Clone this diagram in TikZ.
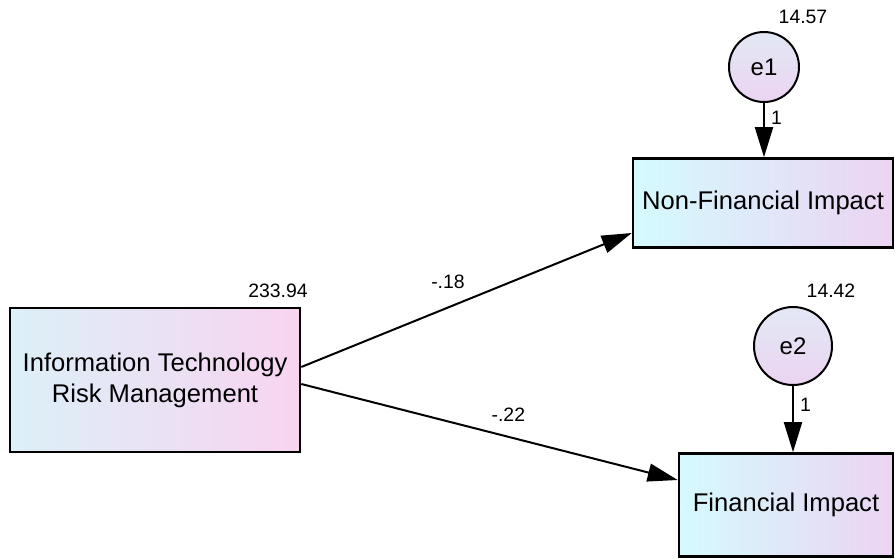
\documentclass[tikz,border=0pt]{standalone}
\usepackage{fontspec}
\setmainfont{Liberation Sans}
\usetikzlibrary{arrows.meta}
\definecolor{boxcyan}{RGB}{212, 250, 254}
\definecolor{boxpink}{RGB}{236, 212, 242}
\definecolor{itcyan}{RGB}{220, 240, 248}
\definecolor{itpink}{RGB}{248, 212, 240}
\definecolor{errgrey}{RGB}{226, 232, 244}

\begin{document}
\begin{tikzpicture}[x=0.5pt, y=-0.5pt,
    obs/.style={draw, line width=1.3pt, left color=boxcyan, right color=boxpink, font=\fontsize{12.8}{15.5}\selectfont, align=center, inner sep=0pt},
    err/.style={draw, circle, line width=1pt, inner sep=0pt, shading=axis, shading angle=135, top color=errgrey, bottom color=boxpink, font=\fontsize{12}{14}\selectfont},
    path/.style={line width=1pt, -{Triangle[length=15pt, width=9pt]}},
    est/.style={font=\fontsize{9.7}{11}\selectfont, inner sep=1pt}]
    \useasboundingbox (0,0) rectangle (895,558);
    \node[obs, left color=itcyan, right color=itpink, minimum width=145pt, minimum height=72pt] (IT) at (155,380) {Information Technology\\Risk Management};
    \node[obs, minimum width=130pt, minimum height=44.5pt] (NF) at (763,203) {Non-Financial Impact};
    \node[obs, minimum width=107pt, minimum height=51.5pt] (FI) at (786,505) {Financial Impact};
    \node[err, minimum size=35pt] (e1) at (764,67) {e1};
    \node[err, minimum size=39pt] (e2) at (793,346) {e2};
    % variances
    \node[est] (vIT) at (278,291) {233.94};
    \node[est] (ve1) at (803,17) {14.57};
    \node[est] (ve2) at (831,291) {14.42};
    % paths
    \draw[path] ([yshift=6.5pt]IT.east) -- ([yshift=-15pt]NF.west) node[est, pos=0.444, above=8pt] {-.18};
    \draw[path] ([yshift=-2pt]IT.east) -- ([yshift=12.5pt]FI.west) node[est, pos=0.55, above=6pt] {-.22};
    \draw[path] (e1) -- (e1 |- NF.north) node[est, pos=0.27, right=2pt] {1};
    \draw[path] (e2) -- (e2 |- FI.north) node[est, pos=0.29, right=2pt] {1};
\end{tikzpicture}
\end{document}
